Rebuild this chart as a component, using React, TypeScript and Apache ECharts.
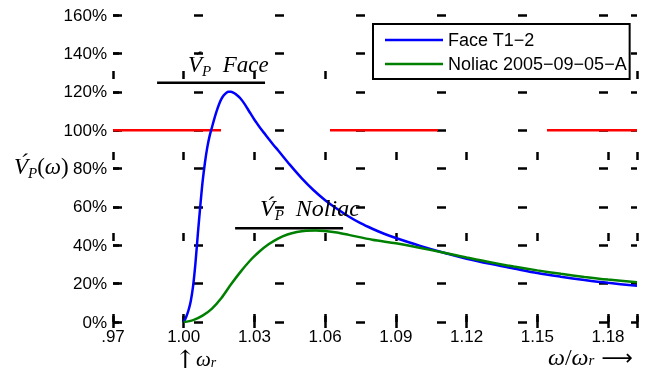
import React, { useEffect, useRef } from 'react';
import * as echarts from 'echarts';

const xTickLabels = ['.97', '1.00', '1.03', '1.06', '1.09', '1.12', '1.15', '1.18'];
const xMin = 0.97;
const xMax = 1.1923;
const xStep = 0.03;
const yMin = 0;
const yMax = 160;
const yStep = 20;

const legendNames = ['Face T1\u22122', 'Noliac 2005\u221209\u221205\u2212A'];

const faceOmega = [1.0, 1.001, 1.002, 1.003, 1.004, 1.005, 1.006, 1.007, 1.008, 1.009, 1.01, 1.011, 1.012, 1.013, 1.014, 1.015, 1.016, 1.017, 1.018, 1.019, 1.02, 1.021, 1.022, 1.024, 1.026, 1.028, 1.03, 1.032, 1.034, 1.036, 1.038, 1.04, 1.045, 1.05, 1.055, 1.06, 1.065, 1.07, 1.075, 1.08, 1.085, 1.09, 1.1, 1.11, 1.12, 1.13, 1.14, 1.15, 1.16, 1.17, 1.18, 1.1923];
const faceValue = [0, 2.5, 6, 11, 19, 31, 46, 60, 73, 83, 91, 97, 101.5, 106, 110, 113.5, 116.3, 118.2, 119.4, 120, 120, 119.6, 118.8, 116.6, 113.3, 109.3, 105.4, 101.9, 98.7, 95.5, 92.4, 89.5, 82, 75, 68.8, 63.5, 59, 55, 51.5, 48.6, 46, 43.8, 39.8, 36.2, 33, 30.3, 27.9, 25.5, 23.6, 21.9, 20.4, 18.9];

const noliacOmega = [1.0, 1.004, 1.008, 1.012, 1.016, 1.02, 1.024, 1.028, 1.032, 1.036, 1.04, 1.044, 1.048, 1.052, 1.056, 1.06, 1.065, 1.07, 1.08, 1.09, 1.1, 1.11, 1.12, 1.13, 1.14, 1.15, 1.16, 1.17, 1.18, 1.1923];
const noliacValue = [0, 1, 3.3, 7, 12.5, 19.5, 26, 31.8, 36.6, 40.5, 43.5, 45.6, 46.9, 47.6, 47.7, 47.4, 46.6, 45.4, 42.9, 41, 38.7, 36.2, 33.6, 31.1, 28.9, 26.9, 25.1, 23.5, 22.1, 20.7];

const refOmega = [0.97, 1.1923];
const refValue = [100, 100];

const faceMarkOmega = [0.9887, 1.0345];
const faceMarkValue = [124.7, 124.7];
const noliacMarkOmega = [1.0218, 1.0676];
const noliacMarkValue = [48.8, 48.8];

const pairs = (xs: number[], ys: number[]) => xs.map((x, i) => [x, ys[i]]);

const sans = '"Liberation Sans", Arial, sans-serif';
const serif = '"Liberation Serif", "DejaVu Serif", serif';

const mathRich = (main: number, sub: number, lh: number) => ({
  v: { fontFamily: serif, fontStyle: 'italic', fontSize: main, lineHeight: lh, verticalAlign: 'middle', color: '#222' },
  u: { fontFamily: serif, fontSize: main, lineHeight: lh, verticalAlign: 'middle', color: '#222' },
  s: { fontFamily: serif, fontStyle: 'italic', fontSize: sub, lineHeight: Math.round(lh / 2), verticalAlign: 'bottom', color: '#222' },
  a: { fontFamily: '"DejaVu Serif", serif', fontSize: 25, lineHeight: lh, verticalAlign: 'middle', color: '#444' },
  w: { fontFamily: '"DejaVu Sans", sans-serif', fontSize: 22, lineHeight: lh, verticalAlign: 'middle', color: '#222' },
});

const legendLine = 'path://M0,0L0.01,0L0,0.01Z M0,6.75L58,6.75L58,9.25L0,9.25Z M58,16L57.99,16L58,15.99Z';

export default function App() {
  const ref = useRef<HTMLDivElement>(null);
  useEffect(() => {
    if (!ref.current) return;
    const chart = echarts.init(ref.current, undefined, { renderer: 'svg' });
    const xLabel = (v: number) => {
      const i = Math.round((v - xMin) / xStep);
      return i >= 0 && i < xTickLabels.length && Math.abs(v - (xMin + xStep * i)) < 1e-6 ? xTickLabels[i] : '';
    };
    const tick = { inside: true, length: 6, lineStyle: { color: '#000', width: 2.5 } };
    const baseX = { type: 'value', min: xMin, max: xMax, interval: xStep, axisLine: { show: false } };
    const baseY = { type: 'value', min: yMin, max: yMax, interval: yStep, axisLine: { show: false } };
    chart.setOption({
      animation: false,
      grid: { left: 113, right: 20, top: 15, bottom: 54, containLabel: false },
      xAxis: [
        {
          ...baseX,
          position: 'bottom',
          axisTick: tick,
          axisLabel: { formatter: xLabel, color: '#000', fontFamily: sans, fontSize: 17, margin: 6 },
          splitLine: { show: true, lineStyle: { color: '#000', width: 2.5, type: [8, 73], dashOffset: 25 } },
        },
        { ...baseX, position: 'top', axisTick: tick, axisLabel: { show: false }, splitLine: { show: false } },
      ],
      yAxis: [
        {
          ...baseY,
          position: 'left',
          axisTick: tick,
          axisLabel: { formatter: '{value}%', color: '#000', fontFamily: sans, fontSize: 17, margin: 6 },
          splitLine: { show: true, lineStyle: { color: '#000', width: 2.5, type: [9, 72], dashOffset: 0 } },
        },
        { ...baseY, position: 'right', axisTick: tick, axisLabel: { show: false }, splitLine: { show: false } },
      ],
      legend: {
        data: legendNames.map((name) => ({ name, icon: legendLine })),
        orient: 'vertical',
        left: 373,
        top: 24,
        itemWidth: 58,
        itemHeight: 16,
        itemGap: 6,
        padding: [7, 3, 6, 12],
        borderColor: '#000',
        borderWidth: 2,
        backgroundColor: '#fff',
        textStyle: { fontFamily: sans, fontSize: 18, color: '#000' },
      },
      series: [
        {
          type: 'line', name: 'ref', data: pairs(refOmega, refValue), symbol: 'none', silent: true,
          lineStyle: { color: '#ff0000', width: 2.5, type: [108, 109] }, itemStyle: { color: '#ff0000' },
        },
        {
          type: 'line', name: 'faceMark', data: pairs(faceMarkOmega, faceMarkValue), symbol: 'none', silent: true,
          lineStyle: { color: '#000', width: 2.5 }, itemStyle: { color: '#000' },
        },
        {
          type: 'line', name: 'noliacMark', data: pairs(noliacMarkOmega, noliacMarkValue), symbol: 'none', silent: true,
          lineStyle: { color: '#000', width: 2.5 }, itemStyle: { color: '#000' },
        },
        {
          type: 'line', name: legendNames[0], data: pairs(faceOmega, faceValue), symbol: 'none', smooth: 0.3,
          lineStyle: { color: '#0000ff', width: 2.5 }, itemStyle: { color: '#0000ff' },
        },
        {
          type: 'line', name: legendNames[1], data: pairs(noliacOmega, noliacValue), symbol: 'none', smooth: 0.3,
          lineStyle: { color: '#008000', width: 2.5 }, itemStyle: { color: '#008000' },
        },
      ],
      graphic: [
        {
          type: 'text', x: 188, y: 64, z: 100,
          style: { text: '{v|V\u0301}{s|P}{v|  Face}', rich: mathRich(23, 15, 28), textVerticalAlign: 'middle' },
        },
        {
          type: 'text', x: 260, y: 208, z: 100,
          style: { text: '{v|V\u0301}{s|P}{v|  Noliac}', rich: mathRich(24, 15, 28), textVerticalAlign: 'middle' },
        },
        {
          type: 'text', x: 14, y: 166, z: 100,
          style: { text: '{v|V\u0301}{s|P}{u|(}{v|\u03c9}{u|)}', rich: mathRich(23, 15, 28), textVerticalAlign: 'middle' },
        },
        {
          type: 'text', x: 175, y: 359, z: 100,
          style: { text: '{a|\u2191}{v|\u03c9}{s|r}', rich: mathRich(21, 14, 20), textVerticalAlign: 'middle' },
        },
        {
          type: 'text', x: 548, y: 357, z: 100,
          style: { text: '{v|\u03c9}{u|/}{v|\u03c9}{s|r}{w| \u27f6}', rich: mathRich(24, 15, 20), textVerticalAlign: 'middle' },
        },
      ],
    });
    return () => chart.dispose();
  }, []);
  return <div ref={ref} style={{ position: 'fixed', left: 0, top: 0, width: 657, height: 376 }} />;
}
